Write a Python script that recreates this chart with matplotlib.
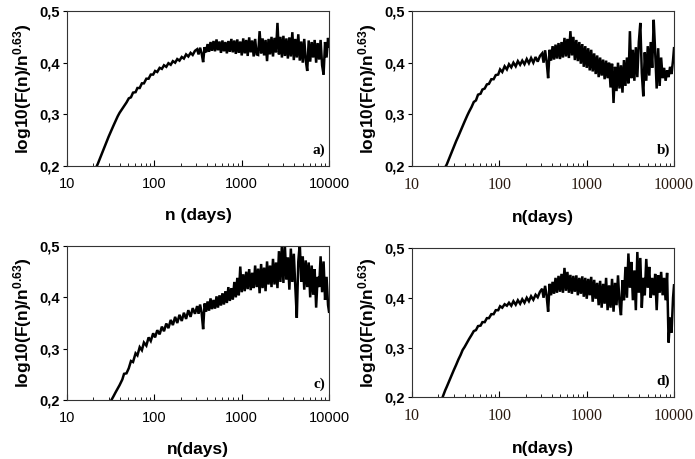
import numpy as np
import matplotlib
matplotlib.use('Agg')
import matplotlib.pyplot as plt
from matplotlib.ticker import LogLocator, NullFormatter

plt.rcParams['font.family'] = ['Liberation Sans', 'DejaVu Sans']
plt.rcParams['mathtext.fontset'] = 'custom'
plt.rcParams['mathtext.bf'] = 'Liberation Sans:bold'
plt.rcParams['mathtext.rm'] = 'Liberation Sans'

# window size n (days), shared by all four panels
n_days = [20, 21, 22.5, 24, 25, 27, 28, 30, 32, 34,
          36, 38, 40, 43, 45, 48, 51, 54, 57, 61,
          64, 68, 72, 76, 81, 86, 91, 97, 102, 108,
          115, 122, 129, 137, 145, 154, 163, 173, 183, 194,
          206, 218, 231, 245, 260, 275, 292,
          309, 321, 334, 348, 362, 376, 391, 407, 423, 440,
          457, 476, 495, 515, 535, 557, 579, 602, 626, 651,
          677, 704, 732, 762, 792, 824, 857, 891, 927, 964,
          1002, 1042, 1084, 1127, 1172, 1219, 1268, 1319, 1372, 1426,
          1484, 1543, 1605, 1669, 1736, 1805, 1877, 1952, 2030, 2112,
          2196, 2284, 2375, 2470, 2569, 2672, 2779, 2890, 3005, 3126,
          3251, 3381, 3516, 3656, 3803, 3955, 4113, 4278, 4449, 4627,
          4812, 5004, 5204, 5412, 5629, 5854, 6088, 6332, 6585, 6849,
          7122, 7407, 7704, 8012, 8332, 8666, 9012, 9373, 9748, 10000]

fa = [0.186, 0.193, 0.204, 0.216, 0.224, 0.238, 0.245, 0.257, 0.268, 0.278,
      0.287, 0.296, 0.303, 0.311, 0.316, 0.323, 0.331, 0.333, 0.342, 0.343,
      0.351, 0.351, 0.360, 0.360, 0.369, 0.369, 0.377, 0.377, 0.384, 0.382,
      0.390, 0.388, 0.395, 0.392, 0.399, 0.396, 0.403, 0.400, 0.407, 0.404,
      0.411, 0.408, 0.416, 0.412, 0.419, 0.415, 0.423,
      0.426, 0.416, 0.429, 0.418, 0.401, 0.430, 0.420, 0.436, 0.421, 0.440,
      0.423, 0.442, 0.422, 0.445, 0.424, 0.441, 0.419, 0.443, 0.422, 0.440,
      0.418, 0.442, 0.421, 0.446, 0.420, 0.443, 0.417, 0.445, 0.419, 0.441,
      0.414, 0.447, 0.418, 0.444, 0.413, 0.449, 0.420, 0.443, 0.412, 0.446,
      0.416, 0.415, 0.461, 0.418, 0.447, 0.414, 0.444, 0.403, 0.446, 0.416,
      0.450, 0.412, 0.448, 0.420, 0.477, 0.416, 0.450, 0.410, 0.452, 0.413,
      0.447, 0.408, 0.449, 0.412, 0.459, 0.405, 0.446, 0.410, 0.455, 0.404,
      0.441, 0.400, 0.446, 0.405, 0.384, 0.443, 0.402, 0.440, 0.410, 0.444,
      0.400, 0.438, 0.406, 0.444, 0.395, 0.377, 0.440, 0.410, 0.448, 0.432]

fb = [0.172, 0.180, 0.189, 0.197, 0.203, 0.217, 0.224, 0.236, 0.248, 0.258,
      0.268, 0.277, 0.286, 0.298, 0.305, 0.314, 0.324, 0.327, 0.338, 0.340,
      0.348, 0.350, 0.358, 0.359, 0.368, 0.368, 0.376, 0.377, 0.387, 0.382,
      0.393, 0.387, 0.397, 0.391, 0.400, 0.393, 0.403, 0.396, 0.404, 0.397,
      0.407, 0.399, 0.409, 0.400, 0.411, 0.402, 0.413,
      0.418, 0.400, 0.424, 0.402, 0.370, 0.425, 0.404, 0.432, 0.406, 0.435,
      0.408, 0.438, 0.407, 0.440, 0.410, 0.448, 0.412, 0.446, 0.409, 0.461,
      0.414, 0.450, 0.405, 0.444, 0.403, 0.440, 0.398, 0.436, 0.392, 0.432,
      0.390, 0.428, 0.385, 0.425, 0.383, 0.418, 0.378, 0.414, 0.372, 0.410,
      0.375, 0.406, 0.368, 0.404, 0.370, 0.400, 0.352, 0.398, 0.322, 0.392,
      0.345, 0.400, 0.350, 0.395, 0.342, 0.405, 0.355, 0.410, 0.360, 0.461,
      0.370, 0.425, 0.365, 0.430, 0.372, 0.440, 0.477, 0.380, 0.335, 0.420,
      0.365, 0.432, 0.375, 0.440, 0.390, 0.483, 0.420, 0.350, 0.428, 0.355,
      0.410, 0.370, 0.390, 0.365, 0.385, 0.372, 0.392, 0.378, 0.405, 0.428]

fc = [0.140, 0.148, 0.156, 0.164, 0.170, 0.178, 0.183, 0.191, 0.199, 0.207,
      0.215, 0.222, 0.229, 0.240, 0.251, 0.252, 0.262, 0.276, 0.274, 0.291,
      0.287, 0.303, 0.297, 0.312, 0.306, 0.322, 0.315, 0.330, 0.322, 0.336,
      0.328, 0.343, 0.334, 0.349, 0.340, 0.356, 0.346, 0.362, 0.350, 0.366,
      0.354, 0.370, 0.358, 0.375, 0.362, 0.379, 0.368,
      0.383, 0.368, 0.386, 0.370, 0.338, 0.388, 0.372, 0.392, 0.374, 0.398,
      0.377, 0.395, 0.378, 0.402, 0.380, 0.404, 0.384, 0.408, 0.386, 0.412,
      0.389, 0.420, 0.393, 0.418, 0.396, 0.430, 0.400, 0.438, 0.404, 0.460,
      0.410, 0.445, 0.412, 0.450, 0.416, 0.455, 0.414, 0.448, 0.418, 0.462,
      0.420, 0.456, 0.408, 0.465, 0.418, 0.458, 0.412, 0.470, 0.425, 0.462,
      0.420, 0.475, 0.425, 0.468, 0.418, 0.490, 0.430, 0.505, 0.428, 0.500,
      0.435, 0.478, 0.415, 0.495, 0.430, 0.485, 0.420, 0.360, 0.470, 0.505,
      0.430, 0.480, 0.415, 0.472, 0.420, 0.468, 0.400, 0.462, 0.405, 0.455,
      0.380, 0.440, 0.420, 0.480, 0.410, 0.470, 0.395, 0.440, 0.385, 0.372]

fd = [0.175, 0.186, 0.201, 0.214, 0.221, 0.235, 0.242, 0.254, 0.265, 0.276,
      0.285, 0.295, 0.301, 0.311, 0.317, 0.325, 0.333, 0.335, 0.343, 0.344,
      0.351, 0.351, 0.359, 0.359, 0.367, 0.367, 0.375, 0.375, 0.383, 0.380,
      0.387, 0.384, 0.390, 0.384, 0.393, 0.386, 0.395, 0.388, 0.397, 0.390,
      0.400, 0.393, 0.403, 0.396, 0.406, 0.401, 0.412,
      0.418, 0.400, 0.424, 0.404, 0.372, 0.428, 0.405, 0.432, 0.408, 0.440,
      0.410, 0.444, 0.412, 0.448, 0.410, 0.460, 0.414, 0.452, 0.410, 0.446,
      0.408, 0.444, 0.412, 0.445, 0.405, 0.440, 0.408, 0.443, 0.402, 0.440,
      0.398, 0.438, 0.405, 0.442, 0.392, 0.436, 0.398, 0.430, 0.385, 0.434,
      0.380, 0.428, 0.388, 0.440, 0.375, 0.425, 0.380, 0.438, 0.372, 0.430,
      0.385, 0.445, 0.390, 0.365, 0.435, 0.395, 0.462, 0.400, 0.489, 0.420,
      0.472, 0.395, 0.455, 0.375, 0.492, 0.410, 0.480, 0.380, 0.440, 0.405,
      0.478, 0.420, 0.462, 0.400, 0.440, 0.405, 0.448, 0.375, 0.445, 0.410,
      0.452, 0.405, 0.440, 0.395, 0.450, 0.310, 0.360, 0.330, 0.400, 0.425]

panels = [
    (fa, 'a)', 'n (days)', [0.0964, 0.6383, 0.377, 0.3377], False),
    (fb, 'b)', 'n(days)', [0.5928, 0.6383, 0.377, 0.3377], True),
    (fc, 'c)', 'n(days)', [0.0964, 0.1285, 0.377, 0.3355], False),
    (fd, 'd)', 'n(days)', [0.5928, 0.1345, 0.377, 0.3252], True),
]

yticks = [0.2, 0.3, 0.4, 0.5]
ytick_labels = ['0,2', '0,3', '0,4', '0,5']
xticks = [10, 100, 1000, 10000]
xtick_labels = ['10', '100', '1000', '10000']

fig = plt.figure(figsize=(6.95, 4.59), dpi=100)

for vals, tag, xlab, pos, serif_ticks in panels:
    ax = fig.add_axes(pos)
    ax.plot(n_days, vals, color='black', linewidth=1.8, solid_joinstyle='miter')
    ax.set_xscale('log')
    ax.set_xlim(10, 10000)
    ax.set_ylim(0.2, 0.5)
    ax.set_xticks(xticks)
    ax.xaxis.set_minor_locator(LogLocator(base=10, subs=np.arange(2, 10)))
    ax.xaxis.set_minor_formatter(NullFormatter())
    if serif_ticks:
        ax.set_xticklabels(xtick_labels, fontsize=11.5, family='Liberation Serif', color='#2a1a10')
    else:
        ax.set_xticklabels(xtick_labels, fontsize=10.5)
    ax.set_yticks(yticks)
    ax.set_yticklabels(ytick_labels, fontsize=10.5, fontweight='bold')
    ax.tick_params(axis='x', which='major', direction='in', length=4, width=0.8, pad=8)
    ax.tick_params(axis='x', which='minor', direction='in', length=2.5, width=0.6)
    ax.tick_params(axis='y', direction='out', length=3, width=0.8, pad=2)
    for sp in ax.spines.values():
        sp.set_linewidth(0.8)
        sp.set_color('#333333')
    ax.set_xlabel(xlab, fontsize=12.5, fontweight='bold', labelpad=12)
    ax.set_ylabel(r'$\mathbf{log10(F(n)/n^{0.63})}$', fontsize=12.5, labelpad=4)
    ax.text(0.985, 0.06, tag, transform=ax.transAxes, ha='right', va='bottom',
            fontsize=11, fontweight='bold', family='Liberation Serif')

fig.savefig('out.png', dpi=100)
